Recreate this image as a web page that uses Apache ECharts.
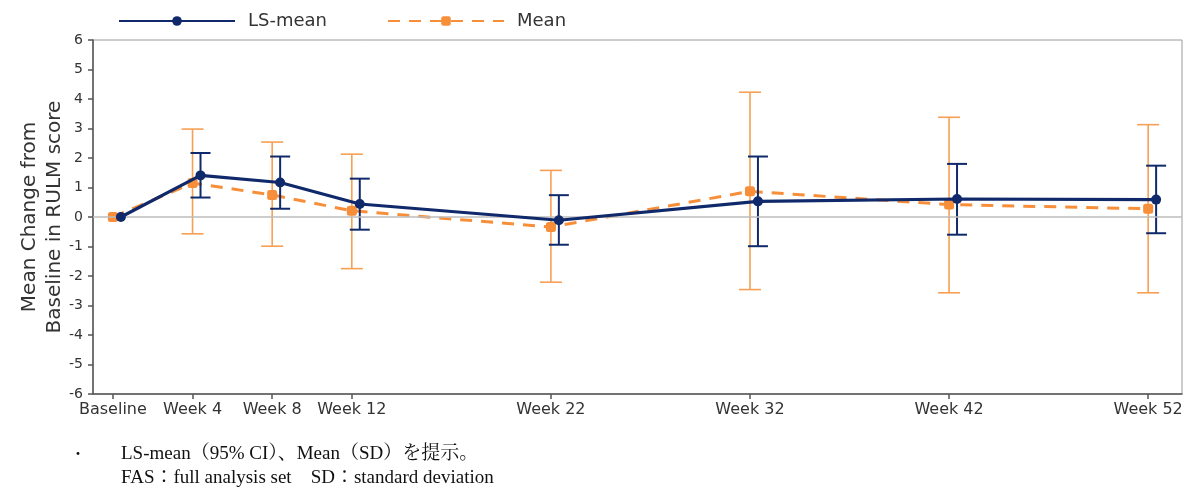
<!DOCTYPE html>
<html>
<head>
<meta charset="utf-8">
<script src="https://cdn.jsdelivr.net/npm/echarts@6/dist/echarts.min.js"></script>
<style>
html,body{margin:0;padding:0;background:#fff;}
#c{width:1186px;height:489px;}
</style>
</head>
<body>
<div id="c"></div>
<script>
// ---- data ----
const weeks = [0, 4, 8, 12, 22, 32, 42, 52];
const tickLabels = ['Baseline', 'Week 4', 'Week 8', 'Week 12', 'Week 22', 'Week 32', 'Week 42', 'Week 52'];
const lsMean  = [0, 1.41, 1.17, 0.44, -0.11, 0.53, 0.61, 0.59];
const lsLower = [null, 0.66, 0.28, -0.43, -0.94, -0.99, -0.60, -0.55];
const lsUpper = [null, 2.17, 2.05, 1.30, 0.74, 2.05, 1.80, 1.74];
const meanVal = [0, 1.15, 0.75, 0.21, -0.34, 0.87, 0.42, 0.28];
const sdLower = [null, -0.57, -0.99, -1.75, -2.21, -2.46, -2.57, -2.57];
const sdUpper = [null, 2.98, 2.54, 2.13, 1.58, 4.23, 3.38, 3.13];
const lsOffset = 0.4; // dodge of LS-mean markers (weeks)

const NAVY = '#10296b';
const ORANGE = '#f78f3a';
const ORANGE_BAR = '#f7a055';
const FONT = 'DejaVu Sans';
const SERIF = 'Liberation Serif, Noto Serif CJK JP, Noto Sans CJK JP';

const lsPts = weeks.map((w, i) => [w + lsOffset, lsMean[i]]);
const meanPts = weeks.map((w, i) => [w, meanVal[i]]);
const lsErr = weeks.map((w, i) => [w + lsOffset, lsLower[i], lsUpper[i]]).filter(d => d[1] !== null);
const sdErr = weeks.map((w, i) => [w, sdLower[i], sdUpper[i]]).filter(d => d[1] !== null);

function errRender(color, width, cap) {
  return function (params, api) {
    const x = api.value(0);
    const lo = api.coord([x, api.value(1)]);
    const hi = api.coord([x, api.value(2)]);
    const st = { stroke: color, lineWidth: width };
    return {
      type: 'group',
      children: [
        { type: 'line', shape: { x1: lo[0], y1: lo[1], x2: hi[0], y2: hi[1] }, style: st },
        { type: 'line', shape: { x1: lo[0] - cap, y1: lo[1], x2: lo[0] + cap, y2: lo[1] }, style: st },
        { type: 'line', shape: { x1: hi[0] - cap, y1: hi[1], x2: hi[0] + cap, y2: hi[1] }, style: st }
      ]
    };
  };
}

const chart = echarts.init(document.getElementById('c'), null, { renderer: 'canvas' });
chart.setOption({
  animation: false,
  backgroundColor: '#fff',
  textStyle: { fontFamily: FONT },
  grid: {
    left: 93, right: 4, top: 40, bottom: 95,
    outerBoundsMode: 'none', containLabel: false,
    show: true, borderColor: '#9a9a9a', borderWidth: 1
  },
  legend: {
    top: 7, left: 113,
    itemWidth: 116, itemHeight: 12, itemGap: 60,
    data: ['LS-mean', 'Mean'],
    textStyle: { fontFamily: FONT, fontSize: 18, color: '#333', padding: [0, 0, 0, 8] }
  },
  xAxis: {
    type: 'value', min: -1, max: 53.7,
    axisLine: { onZero: false, lineStyle: { color: '#555', width: 1.5 } },
    axisTick: { show: true, length: 5, lineStyle: { color: '#555', width: 1.5 }, customValues: weeks },
    axisLabel: {
      customValues: weeks, margin: 8, fontSize: 16, color: '#333', fontFamily: FONT,
      formatter: v => { const i = weeks.indexOf(v); return i >= 0 ? tickLabels[i] : ''; }
    },
    splitLine: { show: false }
  },
  yAxis: {
    type: 'value', min: -6, max: 6, interval: 1,
    name: 'Mean Change from\nBaseline in RULM score',
    nameLocation: 'middle', nameGap: 26, nameRotate: 90, nameMoveOverlap: false,
    nameTextStyle: { fontFamily: FONT, fontSize: 20, color: '#333', lineHeight: 25 },
    axisLine: { show: true, onZero: false, lineStyle: { color: '#555', width: 1.5 } },
    axisTick: { show: true, length: 5, lineStyle: { color: '#555', width: 1.5 } },
    axisLabel: { margin: 10, fontSize: 14, color: '#333', fontFamily: FONT },
    splitLine: { show: false }
  },
  series: [
    {
      name: 'zero', type: 'line', data: [], silent: true, z: 1,
      markLine: {
        silent: true, symbol: 'none', label: { show: false },
        lineStyle: { color: '#bdbdbd', width: 1.5, type: 'solid' },
        data: [{ yAxis: 0 }]
      }
    },
    {
      name: 'SD', type: 'custom', data: sdErr, z: 2, silent: true,
      renderItem: errRender(ORANGE_BAR, 1.6, 11),
      encode: { x: 0, y: [1, 2] }
    },
    {
      name: 'Mean', type: 'line', data: meanPts, z: 3,
      color: ORANGE,
      symbol: 'roundRect', symbolSize: 10,
      itemStyle: { color: ORANGE },
      lineStyle: { color: ORANGE, width: 3, type: [12, 9] }
    },
    {
      name: 'CI', type: 'custom', data: lsErr, z: 4, silent: true,
      renderItem: errRender(NAVY, 2, 10),
      encode: { x: 0, y: [1, 2] }
    },
    {
      name: 'LS-mean', type: 'line', data: lsPts, z: 5,
      color: NAVY,
      symbol: 'circle', symbolSize: 10,
      itemStyle: { color: NAVY },
      lineStyle: { color: NAVY, width: 3.2 }
    }
  ],
  graphic: [
    { type: 'text', x: 70, y: 455, style: { text: '・', fontSize: 16, fill: '#111', fontFamily: SERIF, verticalAlign: 'middle' } },
    { type: 'text', x: 121, y: 454, style: { text: 'LS-mean（95% CI）、Mean（SD）を提示。', fontSize: 19, fill: '#111', fontFamily: SERIF, verticalAlign: 'middle' } },
    { type: 'text', x: 121, y: 478, style: { text: 'FAS：full analysis set　SD：standard deviation', fontSize: 19, fill: '#111', fontFamily: SERIF, verticalAlign: 'middle' } }
  ]
});
</script>
</body>
</html>
